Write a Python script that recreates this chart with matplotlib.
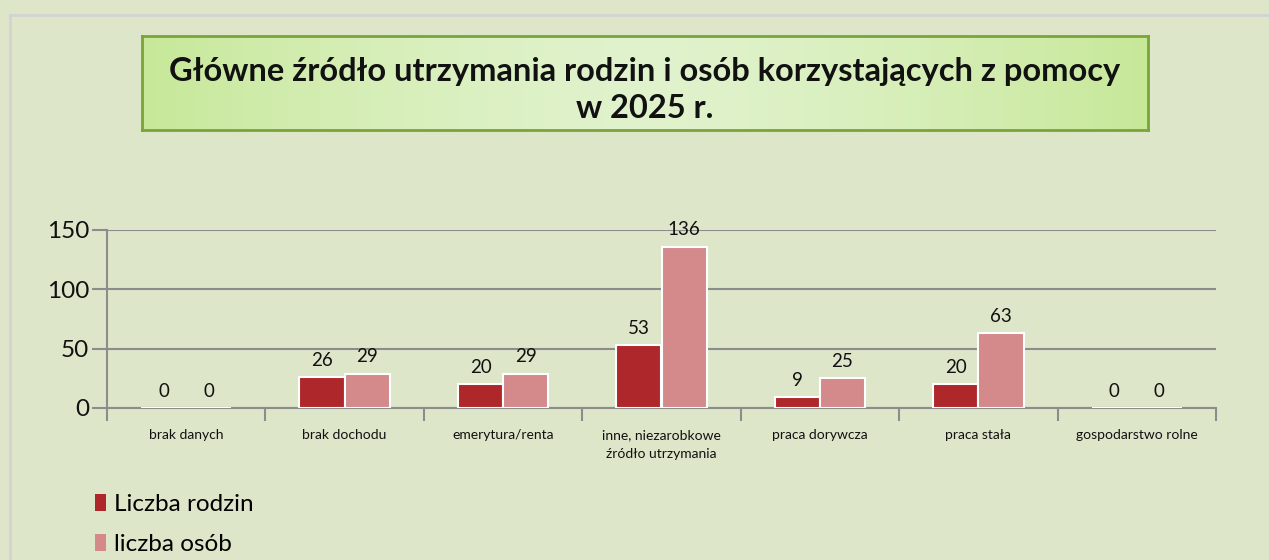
import matplotlib
matplotlib.use("Agg")
import matplotlib.pyplot as plt
import numpy as np
from matplotlib.lines import Line2D

categories = ["brak danych", "brak dochodu", "emerytura/renta",
              "inne, niezarobkowe\nźródło utrzymania", "praca dorywcza",
              "praca stała", "gospodarstwo rolne"]
rodziny = [0, 26, 20, 53, 9, 20, 0]
osoby = [0, 29, 29, 136, 25, 63, 0]
series_names = ["Liczba rodzin", "liczba osób"]
yticks = [0, 50, 100, 150]
title = "Główne źródło utrzymania rodzin i osób korzystających z pomocy\nw 2025 r."

BG = "#dde6c8"
RED = "#ad272b"
PINK = "#d4898b"
GRID = "#8c8c8c"
FONT = ["Lato", "DejaVu Sans"]
plt.rcParams['font.family'] = FONT

W, H = 1269, 560
fig = plt.figure(figsize=(W / 100, H / 100), dpi=100, facecolor=BG)

# outer light border
fig.add_artist(Line2D([10 / W, 10 / W], [0, 1 - 15 / H], transform=fig.transFigure,
                      color="#d3d3d3", lw=2))
fig.add_artist(Line2D([10 / W, 1], [1 - 15 / H, 1 - 15 / H], transform=fig.transFigure,
                      color="#d3d3d3", lw=2))

# title box with gradient
tx0, tx1, ty0, ty1 = 142, 1148, 36, 130
tax = fig.add_axes([tx0 / W, 1 - ty1 / H, (tx1 - tx0) / W, (ty1 - ty0) / H])
xs = np.linspace(-1, 1, 256)
c_edge = np.array([0.78, 0.91, 0.60])
c_mid = np.array([0.88, 0.95, 0.80])
wgt = 1 - np.abs(xs) ** 1.5
grad = c_edge[None, :] * (1 - wgt[:, None]) + c_mid[None, :] * wgt[:, None]
tax.imshow(grad[None, :, :], aspect="auto", extent=[0, 1, 0, 1])
tax.set_xlim(0, 1)
tax.set_ylim(0, 1)
tax.set_xticks([])
tax.set_yticks([])
for s in tax.spines.values():
    s.set_color("#7aa33a")
    s.set_linewidth(2)
tax.text(0.5, 0.43, title, ha="center", va="center", fontsize=23.5, fontweight="bold",
         color="#111111", linespacing=1.33)

# main axes
ax0, ax1, y0, y150 = 107, 1216, 408, 230
ax = fig.add_axes([ax0 / W, 1 - y0 / H, (ax1 - ax0) / W, (y0 - y150) / H])
ax.set_facecolor(BG)
n = len(categories)
x = np.arange(n)
bw = 0.285
b1 = ax.bar(x - bw / 2, rodziny, bw, color=RED, edgecolor="white", linewidth=1.5,
            label=series_names[0], zorder=3)
b2 = ax.bar(x + bw / 2, osoby, bw, color=PINK, edgecolor="white", linewidth=1.5,
            label=series_names[1], zorder=3)
for bars, vals in ((b1, rodziny), (b2, osoby)):
    for r, v in zip(bars, vals):
        ax.annotate(str(v), (r.get_x() + r.get_width() / 2, v), xytext=(0, 6),
                    textcoords="offset points", ha="center", va="bottom",
                    fontsize=13.5, color="#111111", zorder=4)
ax.set_xlim(-0.5, n - 0.5)
ax.set_ylim(0, 150)
ax.set_yticks(yticks)
ax.set_yticklabels([str(t) for t in yticks], fontsize=17.5, color="#111111")
ax.yaxis.grid(True, color=GRID, lw=1.5, zorder=0)
ax.set_axisbelow(True)
ax.tick_params(axis="y", length=11, width=1.5, color=GRID, pad=2)
ax.set_xticks(np.arange(-0.5, n, 1.0), minor=False)
ax.set_xticklabels([])
ax.tick_params(axis="x", length=9, width=1.5, color=GRID, direction="out")
ax.set_xticks(x, minor=True)
ax.set_xticklabels(categories, minor=True, fontsize=10, color="#111111",
                   linespacing=1.75)
ax.tick_params(axis="x", which="minor", length=0, pad=15)
for side in ("top", "right"):
    ax.spines[side].set_visible(False)
ax.spines["left"].set_color(GRID)
ax.spines["left"].set_linewidth(1.5)
ax.spines["bottom"].set_color(GRID)
ax.spines["bottom"].set_linewidth(1.5)
ax.spines["bottom"].set_zorder(2)

# legend
leg = fig.legend(handles=[b1, b2], labels=series_names, loc="upper left",
                 bbox_to_anchor=(95 / W, 1 - 494 / H), frameon=False, fontsize=17.5,
                 handlelength=0.45, handleheight=0.7, handletextpad=0.35,
                 labelspacing=0.78, borderpad=0, borderaxespad=0)
for h in leg.legend_handles:
    h.set_edgecolor("none")

fig.savefig("out.png", dpi=100, facecolor=BG)
